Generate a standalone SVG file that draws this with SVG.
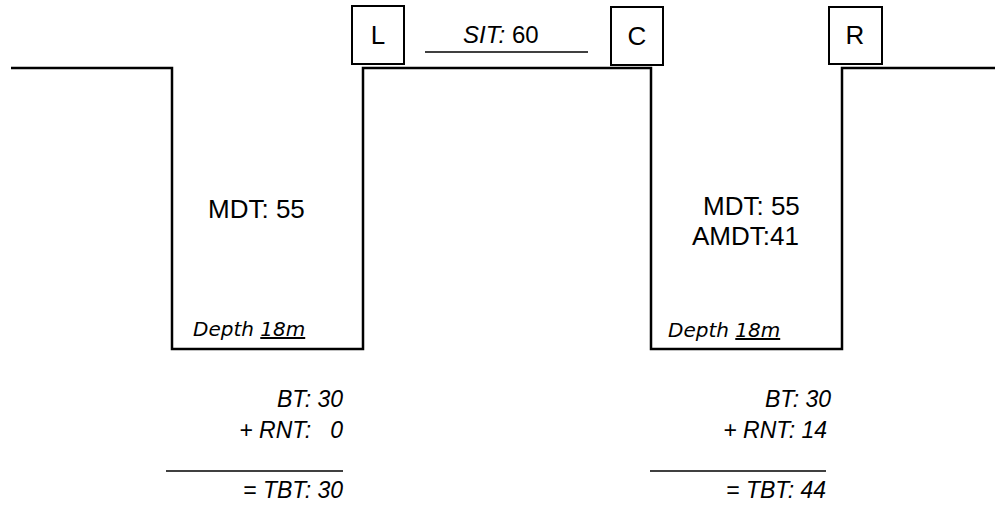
<svg xmlns="http://www.w3.org/2000/svg" width="995" height="508" viewBox="0 0 995 508">
<style>
.ground{fill:none;stroke:#000;stroke-width:2.5;stroke-linejoin:miter}
.box{fill:#fff;stroke:#000;stroke-width:2}
.rule{stroke:#000;stroke-width:1.5}
.lbl{font-family:"Liberation Sans",Arial,sans-serif;fill:#000}
.depth{font-family:"DejaVu Sans",Verdana,sans-serif;font-style:italic;font-size:20px;fill:#000}
.calc{font-family:"Liberation Sans",Arial,sans-serif;font-style:italic;font-size:23px;fill:#000;text-anchor:end}
</style>
<rect width="995" height="508" fill="#fff"/>
<g id="connectors">
<polyline class="ground" points="11,68 172,68 172,349 363,349 363,68 651,68 651,349 842,349 842,68 995,68"/>
<line class="rule" x1="425" y1="52" x2="588" y2="52"/>
</g>
<g id="node-L">
<rect class="box" x="352" y="6" width="52" height="58"/>
<text class="lbl" x="378" y="44" font-size="26" text-anchor="middle">L</text>
</g>
<g id="node-C">
<rect class="box" x="611" y="7" width="52" height="58"/>
<text class="lbl" x="637" y="45" font-size="26" text-anchor="middle">C</text>
</g>
<g id="node-R">
<rect class="box" x="829" y="7" width="53" height="57"/>
<text class="lbl" x="855" y="44" font-size="26" text-anchor="middle">R</text>
</g>
<g id="sit">
<text class="lbl" x="463" y="43" font-size="24"><tspan font-style="italic">SIT:</tspan> 60</text>
</g>
<g id="pit-left">
<text class="lbl" x="208" y="218" font-size="26">MDT: 55</text>
<text class="depth" x="193" y="336">Depth <tspan text-decoration="underline">18m</tspan></text>
</g>
<g id="pit-right">
<text class="lbl" x="703" y="215" font-size="26">MDT: 55</text>
<text class="lbl" x="692" y="245" font-size="26">AMDT:41</text>
<text class="depth" x="668" y="337">Depth <tspan text-decoration="underline">18m</tspan></text>
</g>
<g id="calc-left">
<text class="calc" x="343" y="407">BT: 30</text>
<text class="calc" x="343" y="438" xml:space="preserve">+ RNT:   0</text>
<line class="rule" x1="166" y1="471" x2="343" y2="471"/>
<text class="calc" x="343" y="498">= TBT: 30</text>
</g>
<g id="calc-right">
<text class="calc" x="831" y="407">BT: 30</text>
<text class="calc" x="827" y="438">+ RNT: 14</text>
<line class="rule" x1="650" y1="471" x2="826" y2="471"/>
<text class="calc" x="826" y="498">= TBT: 44</text>
</g>
</svg>
